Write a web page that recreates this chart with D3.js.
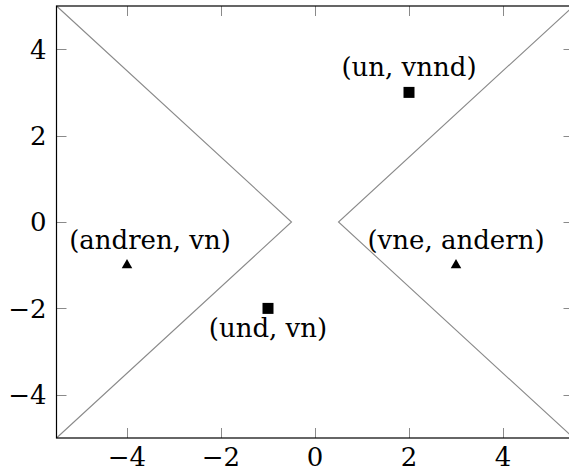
<!DOCTYPE html>
<html>
<head>
<meta charset="utf-8">
<script src="https://cdn.jsdelivr.net/npm/d3@7"></script>
<style>
  html, body { margin: 0; padding: 0; background: #fff; }
  svg { display: block; }
  text { font-family: "DejaVu Serif", "Liberation Serif", serif; fill: #000; }
</style>
</head>
<body>
<svg id="chart" width="569" height="473"></svg>
<script>
// Axis ranges and ticks
const xDomain = [-5.5, 5.5];
const yDomain = [-5, 5];
const xTicks = [-4, -2, 0, 2, 4];
const yTicks = [-4, -2, 0, 2, 4];

// Boundary curves (two wedges meeting near the origin)
const leftWedgeX = [-5.5, -0.5, -5.5];
const leftWedgeY = [5, 0, -5];
const rightWedgeX = [5.5, 0.5, 5.5];
const rightWedgeY = [5, 0, -5];

// Labelled points
const pointX = [2, -1, -4, 3];
const pointY = [3, -2, -1, -1];
const pointShape = ["square", "square", "triangle", "triangle"];
const pointLabel = ["(un, vnnd)", "(und, vn)", "(andren, vn)", "(vne, andern)"];

// Label placement relative to each marker
const labelSide = ["above", "below", "above", "above"];
const labelShift = [0, 0, 23, 0];

const svg = d3.select("#chart");
const plotLeft = 56.5, plotRight = 573.5, plotTop = 6, plotBottom = 438;
const x = d3.scaleLinear().domain(xDomain).range([plotLeft, plotRight]);
const y = d3.scaleLinear().domain(yDomain).range([plotBottom, plotTop]);

const fmt = d => (d < 0 ? "\u2212" + Math.abs(d) : String(d));
const fontSize = 26;
const tickLen = 10;
const tickColor = "#8a8a8a";

// Tick marks on all four sides, pointing inward
const gTicks = svg.append("g").attr("stroke", tickColor).attr("stroke-width", 1);
xTicks.forEach(t => {
  const px = Math.round(x(t)) + 0.5;
  gTicks.append("line").attr("x1", px).attr("x2", px).attr("y1", plotBottom).attr("y2", plotBottom - tickLen);
  gTicks.append("line").attr("x1", px).attr("x2", px).attr("y1", plotTop).attr("y2", plotTop + tickLen);
});
yTicks.forEach(t => {
  const py = Math.round(y(t)) + 0.5;
  gTicks.append("line").attr("x1", plotLeft).attr("x2", plotLeft + tickLen).attr("y1", py).attr("y2", py);
  gTicks.append("line").attr("x1", plotRight).attr("x2", plotRight - tickLen).attr("y1", py).attr("y2", py);
});

// Wedge lines
const line = d3.line().x(d => x(d[0])).y(d => y(d[1]));
const wedges = [
  d3.zip(leftWedgeX, leftWedgeY),
  d3.zip(rightWedgeX, rightWedgeY)
];
svg.append("g").selectAll("path").data(wedges).join("path")
  .attr("d", line)
  .attr("fill", "none")
  .attr("stroke", "#8a8a8a")
  .attr("stroke-width", 1.1);

// Frame
svg.append("rect")
  .attr("x", plotLeft).attr("y", plotTop)
  .attr("width", plotRight - plotLeft).attr("height", plotBottom - plotTop)
  .attr("fill", "none").attr("stroke", "#000").attr("stroke-width", 1.2);

// Tick labels
svg.append("g").selectAll("text").data(xTicks).join("text")
  .attr("x", d => x(d))
  .attr("y", plotBottom + 28)
  .attr("text-anchor", "middle")
  .attr("font-size", fontSize)
  .text(fmt);
svg.append("g").selectAll("text").data(yTicks).join("text")
  .attr("x", plotLeft - 10)
  .attr("y", d => y(d))
  .attr("dy", "0.36em")
  .attr("text-anchor", "end")
  .attr("font-size", fontSize)
  .text(fmt);

// Markers
const pts = pointX.map((px, i) => ({ x: px, y: pointY[i], shape: pointShape[i], label: pointLabel[i], side: labelSide[i], shift: labelShift[i] }));
const symSquare = d3.symbol().type(d3.symbolSquare).size(121);
const symTri = d3.symbol().type(d3.symbolTriangle).size(48);
svg.append("g").selectAll("path").data(pts).join("path")
  .attr("transform", d => `translate(${x(d.x)},${y(d.y)})`)
  .attr("d", d => d.shape === "square" ? symSquare() : symTri())
  .attr("fill", "#000");

// Point labels
svg.append("g").selectAll("text").data(pts).join("text")
  .attr("x", d => x(d.x) + d.shift)
  .attr("y", d => d.side === "above" ? y(d.y) - 16 : y(d.y) + 29)
  .attr("text-anchor", "middle")
  .attr("font-size", fontSize)
  .text(d => d.label);
</script>
</body>
</html>
